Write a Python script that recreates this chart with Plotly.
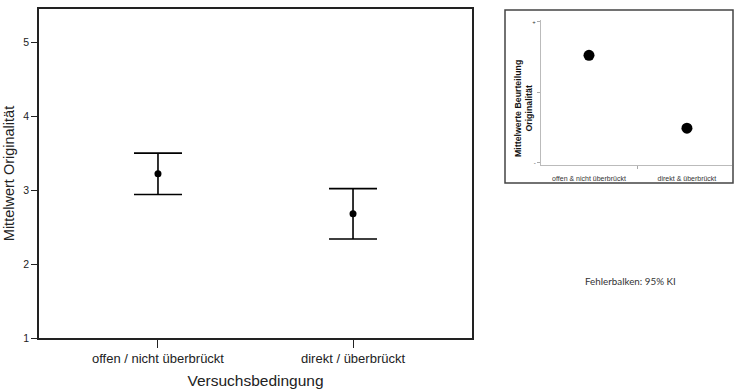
import plotly.graph_objects as go

# ---- main chart data ----
categories = ["offen / nicht überbrückt", "direkt / überbrückt"]
means = [3.22, 2.68]
ci_upper = [3.50, 3.02]
ci_lower = [2.94, 2.34]
y_ticks = [1, 2, 3, 4, 5]

# ---- inset data ----
inset_categories = ["offen & nicht überbrückt", "direkt & überbrückt"]
inset_means = [0.52, -0.51]
inset_ticks = [-1, 0, 1]
inset_ticktext = ["-", "", "+"]

W, H = 734, 391
def px(x):
    return x / W
def py(y):
    return (H - y) / H

err_plus = [u - m for u, m in zip(ci_upper, means)]
err_minus = [m - l for m, l in zip(means, ci_lower)]

fig = go.Figure()
fig.add_trace(go.Scatter(
    x=categories, y=means, mode="markers",
    marker=dict(color="black", size=7),
    error_y=dict(type="data", array=err_plus, arrayminus=err_minus,
                 color="black", thickness=1.6, width=24),
    xaxis="x", yaxis="y", showlegend=False, hoverinfo="skip",
))
fig.add_trace(go.Scatter(
    x=[0, 1], y=inset_means, mode="markers",
    marker=dict(color="black", size=11),
    xaxis="x2", yaxis="y2", showlegend=False, hoverinfo="skip",
))

main_font = "Arial, Liberation Sans, sans-serif"

fig.update_layout(
    width=W, height=H,
    margin=dict(l=0, r=0, t=0, b=0),
    paper_bgcolor="white", plot_bgcolor="white",
    font=dict(family=main_font, color="#222"),
    xaxis=dict(
        domain=[px(39), px(472)], type="category",
        range=[-0.61, 1.61], automargin=False,
        showline=True, linecolor="#222", linewidth=1.5, mirror=True,
        ticks="outside", ticklen=8, tickcolor="#222", tickwidth=1,
        showgrid=False, zeroline=False,
        tickfont=dict(size=13, color="#222"),
        title=dict(text="Versuchsbedingung", font=dict(size=15.5, color="#222"), standoff=10),
    ),
    yaxis=dict(
        domain=[py(338), py(9)], range=[1, 5.45], automargin=False,
        tickvals=y_ticks,
        showline=True, linecolor="#222", linewidth=1.5, mirror=True,
        ticks="outside", ticklen=6, tickcolor="#222", tickwidth=1,
        showgrid=False, zeroline=False,
        tickfont=dict(size=10.5, color="#222"),
        title=dict(text="Mittelwert Originalität", font=dict(size=14.5, color="#222"), standoff=5),
    ),
    xaxis2=dict(
        domain=[px(541), px(732)], range=[-0.49, 1.46],
        anchor="y2", automargin=False,
        tickvals=[0, 1], ticktext=inset_categories, ticks="",
        ticklabelstandoff=7,
        minor=dict(tickvals=[0.5], ticks="outside", ticklen=3, tickcolor="#aaa"),
        showline=True, linecolor="#bbb", linewidth=1,
        showgrid=False, zeroline=False,
        tickfont=dict(size=7, color="#333"),
    ),
    yaxis2=dict(
        domain=[py(165), py(20)], range=[-1.03, 1.02],
        anchor="x2", automargin=False,
        tickvals=inset_ticks, ticktext=inset_ticktext,
        ticks="outside", ticklen=3, tickcolor="#aaa",
        showline=True, linecolor="#bbb", linewidth=1,
        showgrid=False, zeroline=False,
        tickfont=dict(size=6, color="#333"),
    ),
    shapes=[dict(type="rect", xref="paper", yref="paper",
                 x0=px(505), x1=px(733), y0=py(183), y1=py(10),
                 line=dict(color="#444", width=1.5), fillcolor="rgba(0,0,0,0)")],
    annotations=[
        dict(text="<b>Mittelwerte Beurteilung<br>Originalität</b>", textangle=-90,
             x=px(523), y=py(109), xref="paper", yref="paper", showarrow=False,
             xanchor="center", yanchor="middle",
             font=dict(size=8.8, color="#111", family=main_font)),
        dict(text="Fehlerbalken: 95% KI", x=px(583), y=py(281), xref="paper", yref="paper",
             xanchor="left", yanchor="middle", showarrow=False,
             font=dict(size=9.8, color="#333", family="Lato, sans-serif")),
    ],
)

fig.write_html("out.html")
